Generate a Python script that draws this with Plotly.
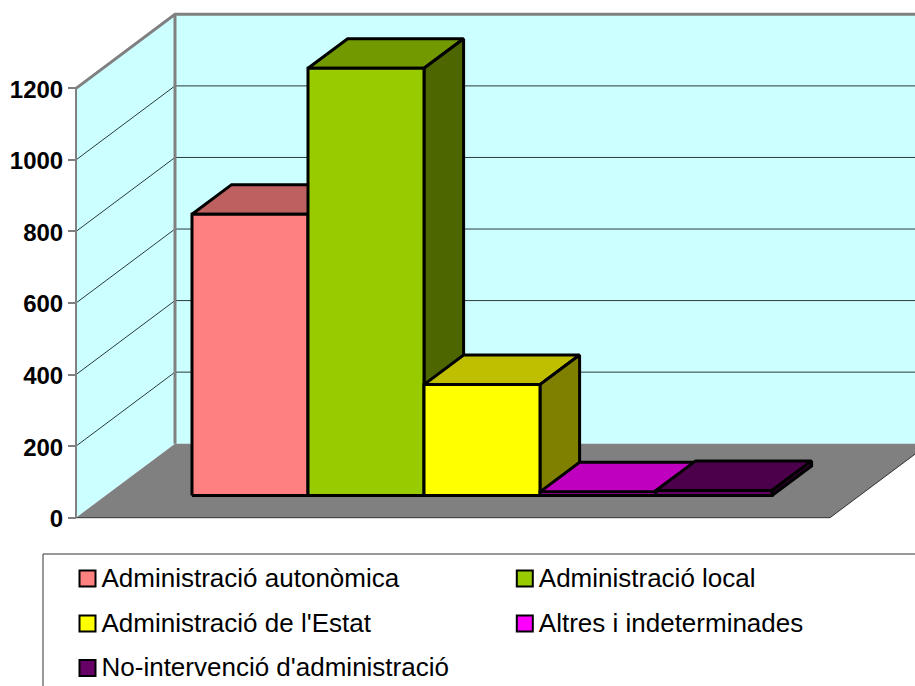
import plotly.graph_objects as go

categories = ["Administració autonòmica", "Administració local", "Administració de l'Estat",
              "Altres i indeterminades", "No-intervenció d'administració"]
values = [786, 1194, 310, 10, 14]
front_colors = ["#FF8080", "#99CC00", "#FFFF00", "#FF00FF", "#660066"]
top_colors = ["#BF6060", "#739900", "#BFBF00", "#BF00BF", "#4C004C"]
side_colors = ["#804040", "#4D6600", "#808000", "#800080", "#330033"]
tick_values = [0, 200, 400, 600, 800, 1000, 1200]

W, H = 915, 686
PX_PER_CAT = 116.0
PX_PER_UNIT = 0.3578
X0_PX, Y0_PX = 162.3, 517.7      # front-floor origin
DEPTH_PX = (99.0, 74.0)
FLOOR = (-0.744, 5.756)
BAR_D = (0.3, 0.7)
FONT = "Liberation Sans, Arial, sans-serif"

xr = [-X0_PX / PX_PER_CAT, (W - X0_PX) / PX_PER_CAT]
yr = [(Y0_PX - H) / PX_PER_UNIT, Y0_PX / PX_PER_UNIT]


def proj(cat, val, d):
    return cat + d * DEPTH_PX[0] / PX_PER_CAT, val + d * DEPTH_PX[1] / PX_PER_UNIT


def poly(points):
    xs, ys = zip(*[proj(*p) for p in points])
    return list(xs), list(ys)


fig = go.Figure()


def add_poly(points, fill, line=None, width=0, closed=True):
    xs, ys = poly(points)
    if closed:
        xs.append(xs[0]); ys.append(ys[0])
    fig.add_trace(go.Scatter(
        x=xs, y=ys, mode="lines", fill="toself" if fill else "none", fillcolor=fill,
        line=dict(color=line or "rgba(0,0,0,0)", width=width), hoverinfo="skip", showlegend=False))


top_v = tick_values[-1]
L, R = FLOOR
# walls and floor
add_poly([(L, 0, 0), (L, top_v, 0), (L, top_v, 1), (L, 0, 1)], "#CCFFFF")
add_poly([(L, 0, 1), (L, top_v, 1), (R + 2, top_v, 1), (R + 2, 0, 1)], "#CCFFFF")
add_poly([(L, 0, 0), (R, 0, 0), (R, 0, 1), (L, 0, 1)], "#808080")
add_poly([(L, 0, 0), (R, 0, 0), (R, 0, 1)], None, "#333333", 1, closed=False)
# gridlines
for v in tick_values[1:]:
    add_poly([(L, v, 0), (L, v, 1), (R + 2, v, 1)], None, "#2A3A3A", 1, closed=False)
# wall edges
add_poly([(L, top_v, 0), (L, top_v, 1), (R + 2, top_v, 1)], None, "#808080", 3, closed=False)
add_poly([(L, 0, 1), (L, top_v, 1)], None, "#808080", 3, closed=False)
add_poly([(L, 0, 0), (L, top_v, 0)], None, "#808080", 2, closed=False)

# bars
d0, d1 = BAR_D
for i, v in enumerate(values):
    a, b = i, i + 1
    add_poly([(a, v, d0), (b, v, d0), (b, v, d1), (a, v, d1)], top_colors[i], "black", 3)
    add_poly([(b, 0, d0), (b, v, d0), (b, v, d1), (b, 0, d1)], side_colors[i], "black", 3)
    add_poly([(a, 0, d0), (b, 0, d0), (b, v, d0), (a, v, d0)], front_colors[i], "black", 3)

# legend, on a pixel-scaled overlay
leg_x = [87.5, 524.8, 87.5, 524.8, 87.5]
leg_y = [578.5, 578.5, 623.5, 623.5, 668]
TEXT_DX, TEXT_DY = 14, 1.5
for name, color, x, y in zip(categories, front_colors, leg_x, leg_y):
    fig.add_trace(go.Scatter(
        x=[x], y=[y], xaxis="x2", yaxis="y2", mode="markers", name=name,
        marker=dict(symbol="square", size=16, color=color, line=dict(color="black", width=2)),
        hoverinfo="skip", showlegend=False, cliponaxis=False))
    fig.add_trace(go.Scatter(
        x=[x + TEXT_DX], y=[y + TEXT_DY], xaxis="x2", yaxis="y2", mode="text", text=[name],
        textposition="middle right", textfont=dict(family=FONT, size=26, color="black"),
        hoverinfo="skip", showlegend=False, cliponaxis=False))

fig.update_layout(
    width=W, height=H, margin=dict(l=0, r=0, t=0, b=0),
    paper_bgcolor="white", plot_bgcolor="white", showlegend=False,
    xaxis=dict(range=xr, visible=False, fixedrange=True),
    yaxis=dict(range=yr, anchor="free", position=76 / W, tickmode="array", tickvals=tick_values,
               ticks="outside", ticklen=8, tickwidth=2, tickcolor="#808080", showgrid=False,
               zeroline=False, showline=False, fixedrange=True, ticklabelshift=1,
               tickfont=dict(family=FONT, size=24, color="black", weight="bold")),
    xaxis2=dict(range=[0, W], overlaying="x", visible=False, fixedrange=True),
    yaxis2=dict(range=[H, 0], overlaying="y", visible=False, fixedrange=True),
    shapes=[dict(type="rect", xref="x2", yref="y2", x0=43, y0=554, x1=W + 10, y1=H + 10,
                 line=dict(color="#333333", width=1), layer="below")],
)
fig.write_html("out.html", config=dict(displayModeBar=False),
               post_script="document.body.style.margin='0';document.body.style.overflow='hidden';")
